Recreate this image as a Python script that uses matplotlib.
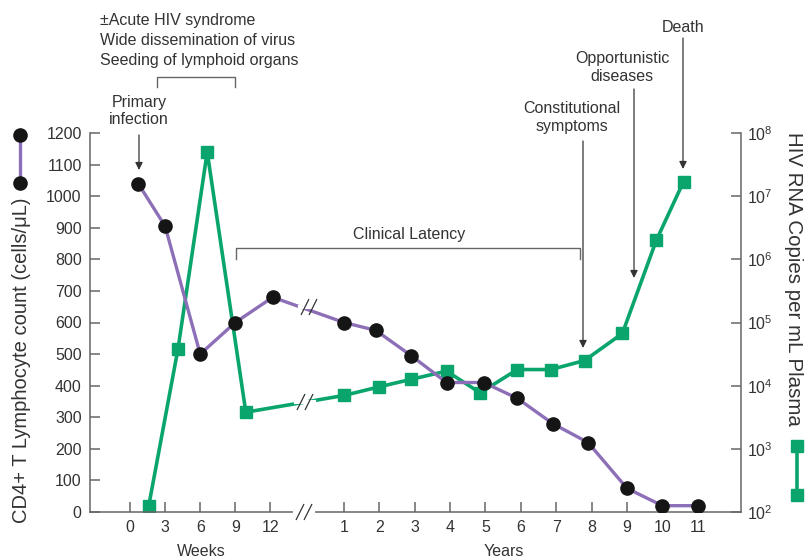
import numpy as np
import matplotlib
matplotlib.use("Agg")
import matplotlib.pyplot as plt
from matplotlib.lines import Line2D

plt.rcParams['font.family'] = ['Liberation Sans', 'DejaVu Sans']
plt.rcParams['mathtext.fontset'] = 'custom'
plt.rcParams['mathtext.rm'] = 'Liberation Sans'
plt.rcParams['mathtext.it'] = 'Liberation Sans'

# CD4+ T cell counts (cells/uL)
cd4_weeks = [0.7, 3, 6, 9, 12.2]
cd4_week_vals = [1040, 905, 500, 600, 680]
cd4_years = [1, 1.9, 2.9, 3.9, 4.95, 5.9, 6.9, 7.9, 9, 10, 11]
cd4_year_vals = [600, 575, 495, 410, 410, 360, 280, 220, 75, 20, 20]

# HIV RNA copies per mL plasma
rna_weeks = [1.6, 4.1, 6.6, 9.9]
rna_week_vals = [1.25e2, 3.8e4, 5e7, 3.8e3]
rna_years = [1, 2, 2.9, 3.9, 4.85, 5.9, 6.85, 7.8, 8.87, 9.83, 10.6]
rna_year_vals = [7e3, 9.6e3, 1.26e4, 1.7e4, 7.7e3, 1.8e4, 1.8e4, 2.5e4, 6.7e4, 2e6, 1.7e7]

week_ticks = [0, 3, 6, 9, 12]
year_ticks = list(range(1, 12))
cd4_ticks = list(range(0, 1300, 100))
rna_ticks = [10.0 ** k for k in range(2, 9)]

PURPLE = '#8d6fb8'
GREEN = '#0aa56c'
TXT = '#333333'
GRAY = '#666666'
FS = 11.5


# broken time axis: weeks then years
def wx(w):
    return 130 + np.asarray(w, dtype=float) * 11.7


def yx(y):
    return 344 + (np.asarray(y, dtype=float) - 1) * 35.37


W, H = 808, 559
fig = plt.figure(figsize=(W / 100, H / 100), dpi=100)
ax = fig.add_axes([90 / W, 1 - 512 / H, (741 - 90) / W, (512 - 133) / H])
ax2 = ax.twinx()


def py(p):
    # figure pixel row -> left axis data value
    return (512 - p) / 379 * 1200


# green line (log axis)
gx = np.concatenate([wx(rna_weeks), yx(rna_years)])
gy = rna_week_vals + rna_year_vals
ax2.plot(gx, gy, color=GREEN, lw=2.6, marker='s', ms=9, mfc=GREEN, mec=GREEN, zorder=2)
ax2.set_yscale('log')
ax2.set_ylim(1e2, 1e8)

# purple line on top
px = np.concatenate([wx(cd4_weeks), yx(cd4_years)])
pv = cd4_week_vals + cd4_year_vals
ax.set_zorder(ax2.get_zorder() + 1)
ax.patch.set_visible(False)
ax.plot(px, pv, color=PURPLE, lw=2.4, marker='o', ms=9.5, mfc='#151515', mec='#151515', zorder=3)

ax.set_xlim(90, 741)
ax.set_ylim(0, 1200)

xt = list(wx(week_ticks)) + list(yx(year_ticks))
xl = [str(t) for t in week_ticks] + [str(t) for t in year_ticks]
ax.set_xticks(xt)
ax.set_xticklabels(xl)
ax.set_yticks(cd4_ticks)
ax2.set_yticks(rna_ticks)
ax2.set_yticklabels(['$10^{%d}$' % k for k in range(2, 9)])
ax2.yaxis.set_minor_locator(matplotlib.ticker.NullLocator())

for a in (ax, ax2):
    a.spines['top'].set_visible(False)
    for s in ('left', 'right', 'bottom'):
        a.spines[s].set_color(GRAY)
        a.spines[s].set_linewidth(1.1)
ax.spines['right'].set_visible(False)
ax2.spines['left'].set_visible(False)
ax2.spines['bottom'].set_visible(False)
ax.tick_params(axis='both', direction='in', length=7, width=1.1, color=GRAY,
               labelsize=FS, labelcolor=TXT)
ax.tick_params(axis='y', pad=6)
ax.tick_params(axis='x', pad=6)
ax2.tick_params(axis='y', direction='in', length=7, width=1.1, color=GRAY,
                labelsize=FS, labelcolor=TXT, pad=4)

ax.set_ylabel('CD4+ T Lymphocyte count (cells/\u03bcL)', fontsize=14.5, color=TXT)
ax.yaxis.set_label_coords(-0.09, 0.40)
ax2.set_ylabel('HIV RNA Copies per mL Plasma', fontsize=14.8, color=TXT, rotation=-90,
               va='bottom')
ax2.yaxis.set_label_coords(1.066, 0.615)

fig.text(201 / W, 1 - 551 / H, 'Weeks', ha='center', va='center', fontsize=FS, color=TXT)
fig.text(504 / W, 1 - 551 / H, 'Years', ha='center', va='center', fontsize=FS, color=TXT)


# break marks "//"
def slashes(xc, yc):
    for dx in (-4, 4):
        ax.plot([xc + dx - 4, xc + dx + 4], [py(yc + 8), py(yc - 8)], color=TXT, lw=0.9,
                clip_on=False, zorder=5, solid_capstyle='butt')


for xc, yc in [(304, 512), (309, 307), (305, 402)]:
    ax.plot([xc - 9, xc + 9], [py(yc), py(yc)], color='white', lw=3, clip_on=False, zorder=4)
    slashes(xc, yc)

# annotations
for i, line in enumerate(['\u00b1Acute HIV syndrome', 'Wide dissemination of virus',
                          'Seeding of lymphoid organs']):
    fig.text(100 / W, 1 - (20 + 20.5 * i) / H, line, ha='left', va='center', fontsize=FS, color=TXT)
ax.plot([157, 157, 235, 235], [py(87), py(77), py(77), py(87)], color=GRAY, lw=1, clip_on=False)

ax.plot([236, 236, 580, 580], [py(259), py(248), py(248), py(259)], color=GRAY, lw=1, clip_on=False)
ax.text(409, py(235), 'Clinical Latency', ha='center', va='center', fontsize=FS, color=TXT)

arrow = dict(arrowstyle='-|>', lw=0.9, color=TXT, mutation_scale=11, shrinkA=0, shrinkB=0)
notes = [
    ('Primary\ninfection', 139, 111, 139, 135, 170),
    ('Constitutional\nsymptoms', 572, 118, 583, 141, 348),
    ('Opportunistic\ndiseases', 622, 68, 634, 89, 278),
    ('Death', 683, 27, 683, 38, 169),
]
for label, tx, ty, axx, y0, y1 in notes:
    ax.text(tx, py(ty), label, ha='center', va='center', fontsize=FS, color=TXT,
            linespacing=1.25, clip_on=False)
    ax.annotate('', xy=(axx, py(y1)), xytext=(axx, py(y0)), arrowprops=arrow,
                annotation_clip=False)

# key glyphs at the sides
fig.add_artist(Line2D([20 / W, 20 / W], [1 - 135 / H, 1 - 183 / H], color=PURPLE, lw=2.4,
                      marker='o', ms=9.5, mfc='#151515', mec='#151515'))
fig.add_artist(Line2D([797 / W, 797 / W], [1 - 446 / H, 1 - 495 / H], color=GREEN, lw=2.6,
                      marker='s', ms=9, mfc=GREEN, mec=GREEN))

fig.savefig('out.png', dpi=100)
